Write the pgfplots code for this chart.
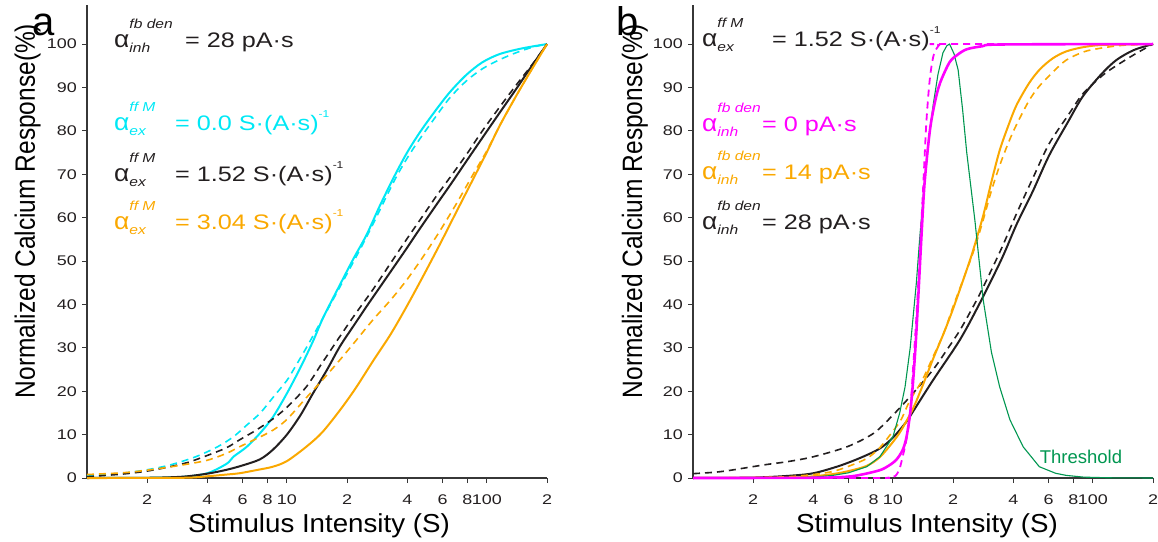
\documentclass[border=0pt]{standalone}
\usepackage{fontspec}
\setmainfont{Liberation Sans}
\usepackage{graphicx}
\usepackage{pgfplots}
\pgfplotsset{compat=1.18}

\definecolor{cy}{RGB}{0,232,245}
\definecolor{og}{RGB}{250,168,0}
\definecolor{mg}{RGB}{255,0,255}
\definecolor{dk}{RGB}{35,31,32}
\definecolor{gr}{RGB}{0,150,80}
\definecolor{ax}{RGB}{55,55,55}

% horizontally stretched text, as in the original figure
\newcommand{\hs}[1]{\scalebox{1.2}[1]{#1}}
\newcommand{\tk}[1]{\scalebox{1.28}[1]{#1}}
\newcommand{\scr}[1]{\hs{\fontsize{13}{13}\selectfont\itshape #1}}
\newcommand{\al}[2]{\scalebox{1.1}[1]{\fontsize{24}{26}\selectfont α}\rlap{\raisebox{-5pt}{\scr{#2}}}\raisebox{19pt}{\scr{#1}}}
\newcommand{\inv}{\raisebox{13pt}{\hs{\fontsize{10}{10}\selectfont -1}}}
\newcommand{\af}{\fontsize{21}{24}\selectfont}

\pgfplotsset{
  sol/.style={smooth, line width=2pt},
  das/.style={smooth, line width=1.6pt, dash pattern=on 7pt off 5pt},
}

\begin{document}
\begin{tikzpicture}
\useasboundingbox (-87pt,-63pt) rectangle (1071pt,478pt);

% ---------------- panel a ----------------
\begin{axis}[at={(0pt,0pt)},
    scale only axis, width=460pt, height=473pt,
    xmode=log, xmin=1, xmax=200, ymin=0, ymax=109,
    axis lines=left, axis line style={-, ax, line width=1.3pt},
    clip=false,
    xtick={2,4,6,8,10,20,40,60,80,100,200},
    xticklabels={\tk{2},\tk{4},\tk{6},\tk{8},\tk{10},\tk{2},\tk{4},\tk{6},\tk{8},\tk{100},\tk{2}},
    minor xtick={},
    ytick={0,10,20,30,40,50,60,70,80,90,100},
    yticklabels={\tk{0},\tk{10},\tk{20},\tk{30},\tk{40},\tk{50},\tk{60},\tk{70},\tk{80},\tk{90},\tk{100}},
    tick align=outside, major tick length=5pt,
    tick style={ax, line width=1pt},
    ticklabel style={font=\fontsize{14}{16}\selectfont, text=dk, inner sep=0pt},
    xticklabel style={yshift=-12pt},
    yticklabel style={xshift=-5pt}]
\addplot[das, cy] coordinates {(1,0.5) (1.5,1.1) (2,1.9) (2.6,3) (3.5,4.9) (4.5,7.2) (5.4,9.5) (6.3,12.2) (7.33,14.9) (8.5,18.5) (10,22.5) (10.8,25) (12.5,30) (15.2,37) (18.4,44) (25,55.5) (34,68) (39.7,73.5) (46,78) (54,82.5) (65,87.5) (79,91.5) (95,94.3) (116,96.4) (140,98) (170,99.3) (200,100)};
\addplot[sol, cy] coordinates {(1,0) (2,0.05) (3,0.25) (4,1.1) (5,3.3) (5.4,4.9) (6.3,7.2) (7.33,10.3) (8.5,14) (10,19.5) (11.7,25.5) (13.5,31.5) (15.2,37) (18.4,44.5) (21.5,50.5) (25,56) (29,62.5) (34,69) (39.7,74.8) (46,79.5) (54,84) (65,88.8) (79,92.9) (95,95.8) (116,97.7) (150,99) (200,100)};
\addplot[das, dk] coordinates {(1,0.3) (1.5,0.9) (2,1.6) (2.6,2.6) (3.2,3.6) (4,5.2) (5,7) (5.8,8.8) (7,11) (8.5,13.6) (10,16.3) (12.5,21) (15,26.5) (18.4,32.6) (22,37.8) (27,43.5) (33,49.5) (39.7,55) (48,60.5) (56,65) (66,69.5) (79,74.5) (95,80) (116,85.5) (140,90.5) (170,95.5) (200,100)};
\addplot[sol, dk] coordinates {(1,0) (2,0.05) (3,0.3) (4,1) (5,1.9) (6,2.9) (7.33,4.3) (8.5,6.5) (10,10) (11.7,14.5) (13.5,19.5) (15.9,25) (18.4,30.3) (21.5,35) (25,39.5) (29,43.8) (34,48.4) (39.7,52.9) (46,57.3) (56,63) (66,67.7) (79,73) (95,78.4) (116,84.2) (140,89.6) (163,94.1) (200,100)};
\addplot[das, og] coordinates {(1,0.8) (1.5,1.2) (2,1.8) (3,3) (4,4.1) (5,5.7) (5.8,7.2) (7,9) (8.5,11) (10,13.5) (12.5,18.5) (15,22.5) (18.4,27.2) (22,31.5) (27,36.5) (33,41) (39.7,45.6) (48,51) (58,56.8) (70,63) (85,69.8) (100,75.4) (116,81.2) (140,88) (163,93.2) (200,100)};
\addplot[sol, og] coordinates {(1,0) (3,0.05) (4,0.4) (5,0.8) (5.8,1.1) (7,1.8) (8.5,2.6) (10,3.9) (12.5,7.2) (15,10.5) (18.4,15.6) (22,20.6) (27,27) (33,33.1) (39.7,39.5) (48,46.5) (58,53.7) (70,61.1) (85,68.7) (100,75.1) (116,81.2) (140,88) (163,93.2) (200,100)};
\end{axis}

% ---------------- panel b ----------------
\begin{axis}[at={(606pt,0pt)},
    scale only axis, width=460pt, height=473pt,
    xmode=log, xmin=1, xmax=200, ymin=0, ymax=109,
    axis lines=left, axis line style={-, ax, line width=1.3pt},
    clip=false,
    xtick={2,4,6,8,10,20,40,60,80,100,200},
    xticklabels={\tk{2},\tk{4},\tk{6},\tk{8},\tk{10},\tk{2},\tk{4},\tk{6},\tk{8},\tk{100},\tk{2}},
    minor xtick={},
    ytick={0,10,20,30,40,50,60,70,80,90,100},
    yticklabels={\tk{0},\tk{10},\tk{20},\tk{30},\tk{40},\tk{50},\tk{60},\tk{70},\tk{80},\tk{90},\tk{100}},
    tick align=outside, major tick length=5pt,
    tick style={ax, line width=1pt},
    ticklabel style={font=\fontsize{14}{16}\selectfont, text=dk, inner sep=0pt},
    xticklabel style={yshift=-12pt},
    yticklabel style={xshift=-5pt}]
\addplot[das, dk] coordinates {(1,1) (1.26,1.3) (1.5,1.7) (2.25,3) (3,3.8) (4,4.9) (5.9,7.2) (8,10.3) (10,14.5) (12.6,19.5) (15.9,25) (18.6,29.5) (21.6,34) (25.2,39.5) (28.3,44) (35,53) (41.6,61) (50,69) (60.4,77) (75,83.5) (89,88.5) (110,92.5) (126,94.5) (160,97.5) (200,100)};
\addplot[sol, dk] coordinates {(1,0) (2,0.1) (3,0.5) (4,1.1) (5.4,2.8) (7,4.8) (8.6,6.8) (10,9.3) (11.7,13) (12.6,15.3) (15.9,22.6) (21.6,31.8) (27.2,40.3) (35,50.5) (41.6,58.5) (50,66) (60.4,74.3) (75,82) (89,87.9) (110,93) (131,96.3) (160,98.6) (200,100)};
\addplot[das, og] coordinates {(1,0) (2,0.1) (3,0.3) (4,0.8) (5,1.5) (6,2.7) (7.4,4.5) (8.6,7) (10,10.8) (11,13.5) (12.2,18) (14,22.5) (15.9,28) (18,33.5) (20,39.5) (25.2,52) (28.3,59.5) (31,66) (34.2,72) (38,77.5) (41.6,81.5) (48,87) (54,90.3) (63,93.5) (73.6,96.3) (90,98.2) (108,99) (140,99.7) (200,100)};
\addplot[sol, og] coordinates {(1,0) (3,0.1) (4,0.4) (5,0.9) (6,1.6) (7.4,2.8) (8.6,4.8) (10,8.3) (11,11) (12.6,16) (14,21) (15.9,27.5) (18,33.5) (20,39) (23.4,48) (25.2,52.5) (28.3,60.5) (31,68) (34.2,75.5) (38,81.5) (41.6,86) (48,91) (54.4,94.2) (63,96.7) (73.6,98.3) (90,99.3) (113,99.8) (200,100)};
\addplot[gr, line width=1.1pt] coordinates {(1,0) (3,0.05) (4,0.2) (5,0.6) (6,1.2) (7.4,2.6) (8.6,4.9) (10,9.5) (10.8,14.9) (11.5,21) (12.2,30) (13.1,45) (13.6,55) (14.3,67) (15.3,80) (15.9,86) (16.8,93) (17.8,98) (18.6,99.6) (19.2,100) (20.2,97.8) (21.2,94) (22.3,85) (23.4,75) (25.7,59.4) (28.3,41) (31.1,29) (34.2,21) (38.5,13.4) (44.8,7.2) (54,2.6) (65,1.1) (73.6,0.6) (90,0.2) (120,0.05) (200,0)};
\addplot[das, mg, line width=1.8pt] coordinates {(1,0) (8,0) (9.5,0.1) (10.3,0.5) (10.8,2.2) (11.2,5) (11.7,9) (12.2,15) (12.6,25) (13.1,37) (13.6,51) (14.2,68) (14.7,82) (15.3,92) (16,97.5) (17,99.7) (18,100) (200,100)};
\addplot[sol, mg, line width=2.6pt] coordinates {(1,0) (4,0.05) (5.9,0.3) (7,0.8) (8.6,1.8) (9.5,2.8) (10.4,4.2) (11.2,6.5) (11.7,9.5) (12.2,15) (12.6,22) (13,31) (13.4,42) (13.9,56) (14.4,68) (15.3,80) (16.2,86.5) (17.2,91) (19.2,95.8) (21,97.5) (23.4,98.8) (28,99.5) (35,99.9) (200,100)};
\end{axis}

% ---------------- texts ----------------
\begin{scope}[every node/.style={inner sep=0pt}]
% axis labels
\node[rotate=90, anchor=base, text=black, font=\fontsize{28}{30}\selectfont] at (-52pt,267pt) {\scalebox{0.875}[1]{Normalized Calcium Response(\%)}};
\node[rotate=90, anchor=base, text=black, font=\fontsize{28}{30}\selectfont] at (555pt,267pt) {\scalebox{0.875}[1]{Normalized Calcium Response(\%)}};
\node[anchor=base, text=black, font=\fontsize{26}{28}\selectfont] at (232pt,-54pt) {\scalebox{1.065}[1]{Stimulus Intensity (S)}};
\node[anchor=base, text=black, font=\fontsize{26}{28}\selectfont] at (840pt,-54pt) {\scalebox{1.065}[1]{Stimulus Intensity (S)}};
% panel letters
\node[anchor=base west, text=black, font=\fontsize{40}{42}\selectfont] at (-55pt,442pt) {a};
\node[anchor=base west, text=black, font=\fontsize{40}{42}\selectfont] at (529pt,442pt) {b};
% panel a annotations
\node[anchor=base west, text=dk, font=\af] at (27pt,430pt) {\al{fb den}{inh}};
\node[anchor=base west, text=dk, font=\af] at (98pt,430pt) {\hs{= 28 pA·s}};
\node[anchor=base west, text=cy, font=\af] at (27pt,347pt) {\al{ff M}{ex}};
\node[anchor=base west, text=cy, font=\af] at (88pt,347pt) {\hs{= 0.0 S·(A·s)}\inv};
\node[anchor=base west, text=dk, font=\af] at (27pt,296pt) {\al{ff M}{ex}};
\node[anchor=base west, text=dk, font=\af] at (88pt,296pt) {\hs{= 1.52 S·(A·s)}\inv};
\node[anchor=base west, text=og, font=\af] at (27pt,248pt) {\al{ff M}{ex}};
\node[anchor=base west, text=og, font=\af] at (88pt,248pt) {\hs{= 3.04 S·(A·s)}\inv};
% panel b annotations
\node[anchor=base west, text=dk, font=\af] at (615pt,431pt) {\al{ff M}{ex}};
\node[anchor=base west, text=dk, font=\af] at (685pt,431pt) {\hs{= 1.52 S·(A·s)}\inv};
\node[anchor=base west, text=mg, font=\af] at (615pt,346pt) {\al{fb den}{inh}};
\node[anchor=base west, text=mg, font=\af] at (675pt,346pt) {\hs{= 0 pA·s}};
\node[anchor=base west, text=og, font=\af] at (615pt,298pt) {\al{fb den}{inh}};
\node[anchor=base west, text=og, font=\af] at (675pt,298pt) {\hs{= 14 pA·s}};
\node[anchor=base west, text=dk, font=\af] at (615pt,248pt) {\al{fb den}{inh}};
\node[anchor=base west, text=dk, font=\af] at (675pt,248pt) {\hs{= 28 pA·s}};
\node[anchor=base, text=gr, font=\fontsize{18.5}{20}\selectfont] at (994pt,15pt) {Threshold};
\end{scope}
\end{tikzpicture}
\end{document}
